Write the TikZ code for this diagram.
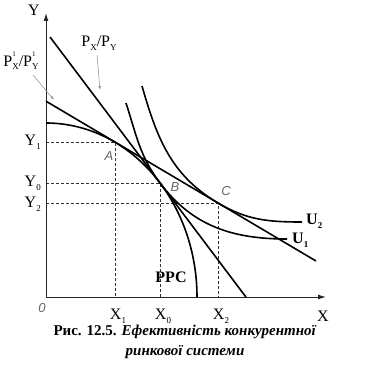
\documentclass[tikz,border=0pt]{standalone}
\usepackage{fontspec}
\setmainfont{Liberation Serif}
\newfontfamily\labsans{Liberation Sans}
\usetikzlibrary{arrows.meta}
\newcommand\sbs[1]{\raisebox{-0.5ex}{\fontsize{9}{9}\selectfont #1}}
\newcommand\pstack[1]{P\makebox[0pt][l]{\raisebox{1.25ex}{\fontsize{7}{7}\selectfont 1}}\raisebox{-0.5ex}{\fontsize{9}{9}\selectfont #1}}
\begin{document}
\begin{tikzpicture}[x=1pt,y=1pt,
  curve/.style={line width=1.6pt, black},
  axis/.style={line width=1pt, black!85, -{Latex[length=8pt,width=5pt]}},
  guide/.style={line width=0.6pt, dash pattern=on 3pt off 2pt, black!80},
  ptr/.style={line width=0.5pt, black!45, -{Latex[length=4pt,width=2.5pt]}},
  lab/.style={font=\fontsize{16}{18}\selectfont, inner sep=0pt},
  pt/.style={font=\labsans\itshape\fontsize{13}{15}\selectfont, text=black!60, inner sep=0pt},
  ulab/.style={font=\bfseries\fontsize{16}{18}\selectfont, inner sep=0pt}
]
\useasboundingbox (0,0) rectangle (387,381);
\fill[white] (0,0) rectangle (387,381);
% axes
\coordinate (O) at (46,84);
\coordinate (Ytip) at (46,368);
\coordinate (Xtip) at (326,84);
% key points
\coordinate (A) at (115,239);
\coordinate (B) at (160,198);
\coordinate (C) at (218,178);
\coordinate (Ay) at (46,239);
\coordinate (Ax) at (115,84);
\coordinate (By) at (46,198);
\coordinate (Bx) at (160,84);
\coordinate (Cy) at (46,178);
\coordinate (Cx) at (218,84);
% dashed guides
\draw[guide] (Ay) -- (A) -- (Ax);
\draw[guide] (By) -- (B) -- (Bx);
\draw[guide] (Cy) -- (C) -- (Cx);
\draw[axis] (O) -- (Ytip);
\draw[axis] (O) -- (Xtip);
% PPC
\draw[curve] plot[domain=0:90, samples=80, smooth] ({46+151*sin(\x)},{84+174*cos(\x)});
% price lines
\coordinate (P1s) at (46,279.8);
\coordinate (P1e) at (316,120);
\coordinate (Ps) at (50,344);
\coordinate (Pe) at (245.9,84);
\draw[curve] (P1s) -- (P1e);
\draw[curve] (Ps) -- (Pe);
% indifference curves
\coordinate (U1s) at (126,278);
\coordinate (U1e) at (287,142);
\coordinate (U2s) at (142,295);
\coordinate (U2e) at (302,159);
\draw[curve] (U1s) to[out=-72,in=127] (B) to[out=-53,in=180] (U1e);
\draw[curve] (U2s) to[out=-74,in=149.4] (C) to[out=-30.6,in=180] (U2e);
% axis labels
\node[lab] (Yl) at (34,371) {Y};
\node[lab] (Xl) at (323,65) {X};
\node[pt] (Ol) at (42,73) {0};
\node[lab, anchor=east] (Y1l) at (41,239) {Y\sbs{1}};
\node[lab, anchor=east] (Y0l) at (41,198) {Y\sbs{0}};
\node[lab, anchor=east] (Y2l) at (41,177) {Y\sbs{2}};
\node[lab] (X1l) at (118,65) {X\sbs{1}};
\node[lab] (X0l) at (163,65) {X\sbs{0}};
\node[lab] (X2l) at (221,65) {X\sbs{2}};
% point labels
\node[pt] (Al) at (109,225) {A};
\node[pt] (Bl) at (175,194) {B};
\node[pt] (Cl) at (226,190) {C};
% curve labels
\node[ulab] (PPCl) at (171,104) {PPC};
\node[ulab, anchor=west] (U2l) at (306,160) {U\sbs{2}};
\node[ulab, anchor=west] (U1l) at (292,141) {U\sbs{1}};
% price labels and pointers
\node[lab] (PXl) at (99,338) {P\sbs{X}/P\sbs{Y}};
\node[lab] (P1l) at (21,320) {\pstack{X}/\pstack{Y}};
\coordinate (PXt) at (100,291);
\coordinate (P1t) at (54,281);
\draw[ptr] (97,326) -- (PXt);
\draw[ptr] (33,306) -- (P1t);
% caption
\node[font=\bfseries\fontsize{15}{20}\selectfont, align=center, inner sep=0pt] (cap) at (185,39)
  {Рис. 12.5. \textit{Ефективність конкурентної}\\ \textit{ринкової системи}};
\end{tikzpicture}
\end{document}
